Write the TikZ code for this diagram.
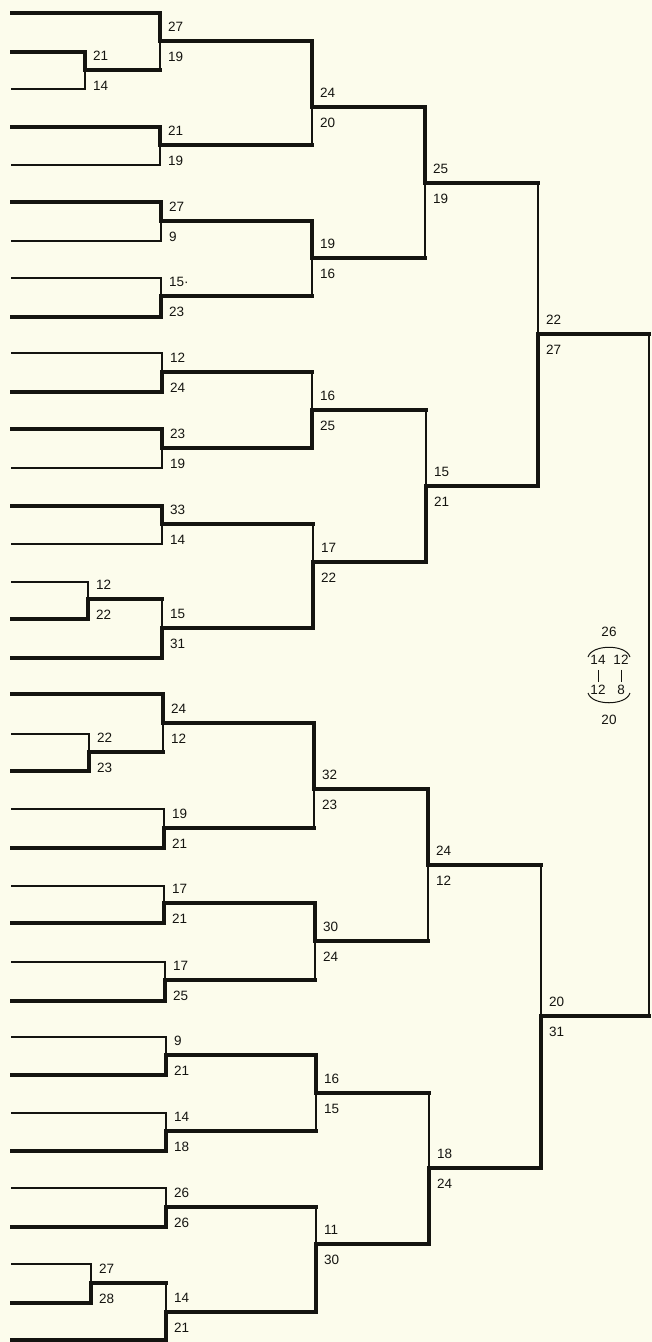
\documentclass[tikz,border=0pt]{standalone}
\usepackage{fontspec}
\setmainfont{Liberation Sans}
\definecolor{paper}{HTML}{FCFCEC}
\definecolor{ink}{HTML}{141410}

\begin{document}
\begin{tikzpicture}[x=1pt,y=-1pt,
    win/.style={draw=ink,line width=3.2pt,line cap=rect},
    loss/.style={draw=ink,line width=1.3pt,line cap=rect},
    rim/.style={draw=ink,line width=1pt},
    score/.style={anchor=west,inner sep=0pt,text=ink,font=\fontsize{13.5}{15}\selectfont},
    hi/.style={score,xshift=8pt,yshift=14pt},
    lo/.style={score,xshift=8pt,yshift=-16pt}]

  \fill[paper] (0,0) rectangle (652,1342);
  \useasboundingbox (0,0) rectangle (652,1342);

  % Junctions
  % play-in
  \coordinate (p1) at (85,70);
  \coordinate (p2) at (88,599);
  \coordinate (p3) at (89,752);
  \coordinate (p4) at (91,1283);
  % first round
  \coordinate (m1) at (160,41);
  \coordinate (m2) at (160,145);
  \coordinate (m3) at (161,221);
  \coordinate (m4) at (161,296);
  \coordinate (m5) at (162,372);
  \coordinate (m6) at (162,448);
  \coordinate (m7) at (162,524);
  \coordinate (m8) at (162,628);
  \coordinate (m9) at (163,723);
  \coordinate (m10) at (164,828);
  \coordinate (m11) at (164,903);
  \coordinate (m12) at (165,980);
  \coordinate (m13) at (166,1055);
  \coordinate (m14) at (166,1131);
  \coordinate (m15) at (166,1207);
  \coordinate (m16) at (166,1312);
  % second round
  \coordinate (r1) at (312,107);
  \coordinate (r2) at (312,258);
  \coordinate (r3) at (312,410);
  \coordinate (r4) at (313,562);
  \coordinate (r5) at (314,789);
  \coordinate (r6) at (315,941);
  \coordinate (r7) at (316,1093);
  \coordinate (r8) at (316,1244);
  % quarter finals
  \coordinate (q1) at (425,183);
  \coordinate (q2) at (426,486);
  \coordinate (q3) at (428,865);
  \coordinate (q4) at (429,1168);
  % semi finals
  \coordinate (s1) at (538,334);
  \coordinate (s2) at (541,1016);
  % final
  \coordinate (ft) at (649,334);
  \coordinate (fb) at (649,1016);

  % Play-in
  \draw[win]  (12,52) -| (p1);
  \draw[loss] (12,89) -| (p1);
  \draw[loss] (12,582) -| (p2);
  \draw[win]  (12,619) -| (p2);
  \draw[loss] (12,734) -| (p3);
  \draw[win]  (12,771) -| (p3);
  \draw[loss] (12,1264) -| (p4);
  \draw[win]  (12,1303) -| (p4);

  % First round
  \draw[win]  (12,13) -| (m1);
  \draw[win]  (p1) -- (p1 -| m1);
  \draw[loss] (p1 -| m1) -- (m1);
  \draw[win]  (12,127) -| (m2);
  \draw[loss] (12,165) -| (m2);
  \draw[win]  (12,202) -| (m3);
  \draw[loss] (12,241) -| (m3);
  \draw[loss] (12,278) -| (m4);
  \draw[win]  (12,317) -| (m4);
  \draw[loss] (12,353) -| (m5);
  \draw[win]  (12,392) -| (m5);
  \draw[win]  (12,429) -| (m6);
  \draw[loss] (12,468) -| (m6);
  \draw[win]  (12,506) -| (m7);
  \draw[loss] (12,544) -| (m7);
  \draw[win]  (p2) -- (p2 -| m8);
  \draw[loss] (p2 -| m8) -- (m8);
  \draw[win]  (12,658) -| (m8);
  \draw[win]  (12,694) -| (m9);
  \draw[win]  (p3) -- (p3 -| m9);
  \draw[loss] (p3 -| m9) -- (m9);
  \draw[loss] (12,809) -| (m10);
  \draw[win]  (12,848) -| (m10);
  \draw[loss] (12,886) -| (m11);
  \draw[win]  (12,923) -| (m11);
  \draw[loss] (12,962) -| (m12);
  \draw[win]  (12,1001) -| (m12);
  \draw[loss] (12,1037) -| (m13);
  \draw[win]  (12,1075) -| (m13);
  \draw[loss] (12,1113) -| (m14);
  \draw[win]  (12,1151) -| (m14);
  \draw[loss] (12,1188) -| (m15);
  \draw[win]  (12,1227) -| (m15);
  \draw[win]  (p4) -- (p4 -| m16);
  \draw[loss] (p4 -| m16) -- (m16);
  \draw[win]  (12,1340) -| (m16);

  % Second round
  \draw[win]  (m1) -| (r1);
  \draw[win]  (m2) -- (m2 -| r1);
  \draw[loss] (m2 -| r1) -- (r1);
  \draw[win]  (m3) -| (r2);
  \draw[win]  (m4) -- (m4 -| r2);
  \draw[loss] (m4 -| r2) -- (r2);
  \draw[win]  (m5) -- (m5 -| r3);
  \draw[loss] (m5 -| r3) -- (r3);
  \draw[win]  (m6) -| (r3);
  \draw[win]  (m7) -- (m7 -| r4);
  \draw[loss] (m7 -| r4) -- (r4);
  \draw[win]  (m8) -| (r4);
  \draw[win]  (m9) -| (r5);
  \draw[win]  (m10) -- (m10 -| r5);
  \draw[loss] (m10 -| r5) -- (r5);
  \draw[win]  (m11) -| (r6);
  \draw[win]  (m12) -- (m12 -| r6);
  \draw[loss] (m12 -| r6) -- (r6);
  \draw[win]  (m13) -| (r7);
  \draw[win]  (m14) -- (m14 -| r7);
  \draw[loss] (m14 -| r7) -- (r7);
  \draw[win]  (m15) -- (m15 -| r8);
  \draw[loss] (m15 -| r8) -- (r8);
  \draw[win]  (m16) -| (r8);

  % Quarter finals
  \draw[win]  (r1) -| (q1);
  \draw[win]  (r2) -- (r2 -| q1);
  \draw[loss] (r2 -| q1) -- (q1);
  \draw[win]  (r3) -- (r3 -| q2);
  \draw[loss] (r3 -| q2) -- (q2);
  \draw[win]  (r4) -| (q2);
  \draw[win]  (r5) -| (q3);
  \draw[win]  (r6) -- (r6 -| q3);
  \draw[loss] (r6 -| q3) -- (q3);
  \draw[win]  (r7) -- (r7 -| q4);
  \draw[loss] (r7 -| q4) -- (q4);
  \draw[win]  (r8) -| (q4);

  % Semi finals
  \draw[win]  (q1) -- (q1 -| s1);
  \draw[loss] (q1 -| s1) -- (s1);
  \draw[win]  (q2) -| (s1);
  \draw[win]  (q3) -- (q3 -| s2);
  \draw[loss] (q3 -| s2) -- (s2);
  \draw[win]  (q4) -| (s2);

  % Final
  \draw[win]  (s1) -- (ft);
  \draw[loss] (ft) -- (fb);
  \draw[win]  (s2) -- (fb);

  % Scores
  \node[hi] (p1a) at (p1) {21};   \node[lo] (p1b) at (p1) {14};
  \node[hi] (p2a) at (p2) {12};   \node[lo] (p2b) at (p2) {22};
  \node[hi] (p3a) at (p3) {22};   \node[lo] (p3b) at (p3) {23};
  \node[hi] (p4a) at (p4) {27};   \node[lo] (p4b) at (p4) {28};

  \node[hi] (m1a) at (m1) {27};   \node[lo] (m1b) at (m1) {19};
  \node[hi] (m2a) at (m2) {21};   \node[lo] (m2b) at (m2) {19};
  \node[hi] (m3a) at (m3) {27};   \node[lo] (m3b) at (m3) {9};
  \node[hi] (m4a) at (m4) {15·};  \node[lo] (m4b) at (m4) {23};
  \node[hi] (m5a) at (m5) {12};   \node[lo] (m5b) at (m5) {24};
  \node[hi] (m6a) at (m6) {23};   \node[lo] (m6b) at (m6) {19};
  \node[hi] (m7a) at (m7) {33};   \node[lo] (m7b) at (m7) {14};
  \node[hi] (m8a) at (m8) {15};   \node[lo] (m8b) at (m8) {31};
  \node[hi] (m9a) at (m9) {24};   \node[lo] (m9b) at (m9) {12};
  \node[hi] (m10a) at (m10) {19}; \node[lo] (m10b) at (m10) {21};
  \node[hi] (m11a) at (m11) {17}; \node[lo] (m11b) at (m11) {21};
  \node[hi] (m12a) at (m12) {17}; \node[lo] (m12b) at (m12) {25};
  \node[hi] (m13a) at (m13) {9};  \node[lo] (m13b) at (m13) {21};
  \node[hi] (m14a) at (m14) {14}; \node[lo] (m14b) at (m14) {18};
  \node[hi] (m15a) at (m15) {26}; \node[lo] (m15b) at (m15) {26};
  \node[hi] (m16a) at (m16) {14}; \node[lo] (m16b) at (m16) {21};

  \node[hi] (r1a) at (r1) {24};   \node[lo] (r1b) at (r1) {20};
  \node[hi] (r2a) at (r2) {19};   \node[lo] (r2b) at (r2) {16};
  \node[hi] (r3a) at (r3) {16};   \node[lo] (r3b) at (r3) {25};
  \node[hi] (r4a) at (r4) {17};   \node[lo] (r4b) at (r4) {22};
  \node[hi] (r5a) at (r5) {32};   \node[lo] (r5b) at (r5) {23};
  \node[hi] (r6a) at (r6) {30};   \node[lo] (r6b) at (r6) {24};
  \node[hi] (r7a) at (r7) {16};   \node[lo] (r7b) at (r7) {15};
  \node[hi] (r8a) at (r8) {11};   \node[lo] (r8b) at (r8) {30};

  \node[hi] (q1a) at (q1) {25};   \node[lo] (q1b) at (q1) {19};
  \node[hi] (q2a) at (q2) {15};   \node[lo] (q2b) at (q2) {21};
  \node[hi] (q3a) at (q3) {24};   \node[lo] (q3b) at (q3) {12};
  \node[hi] (q4a) at (q4) {18};   \node[lo] (q4b) at (q4) {24};

  \node[hi] (s1a) at (s1) {22};   \node[lo] (s1b) at (s1) {27};
  \node[hi] (s2a) at (s2) {20};   \node[lo] (s2b) at (s2) {31};

  % Final score by halves
  \node[score,anchor=center] (fa) at (609,632) {26};
  \node[score,anchor=center] (h1) at (598,660) {14};
  \node[score,anchor=center] (h2) at (621,660) {12};
  \node[score,anchor=center] (h3) at (598,690) {12};
  \node[score,anchor=center] (h4) at (621,690) {8};
  \node[score,anchor=center] (fz) at (609,720) {20};
  \draw[rim,shorten <=5pt,shorten >=3pt] (h1.south) -- (h3.north);
  \draw[rim,shorten <=5pt,shorten >=3pt] (h2.south) -- (h4.north);
  \draw[rim] (588,657) .. controls (592,644) and (626,644) .. (630,657);
  \draw[rim] (588,693) .. controls (592,706) and (626,706) .. (630,693);
\end{tikzpicture}
\end{document}
